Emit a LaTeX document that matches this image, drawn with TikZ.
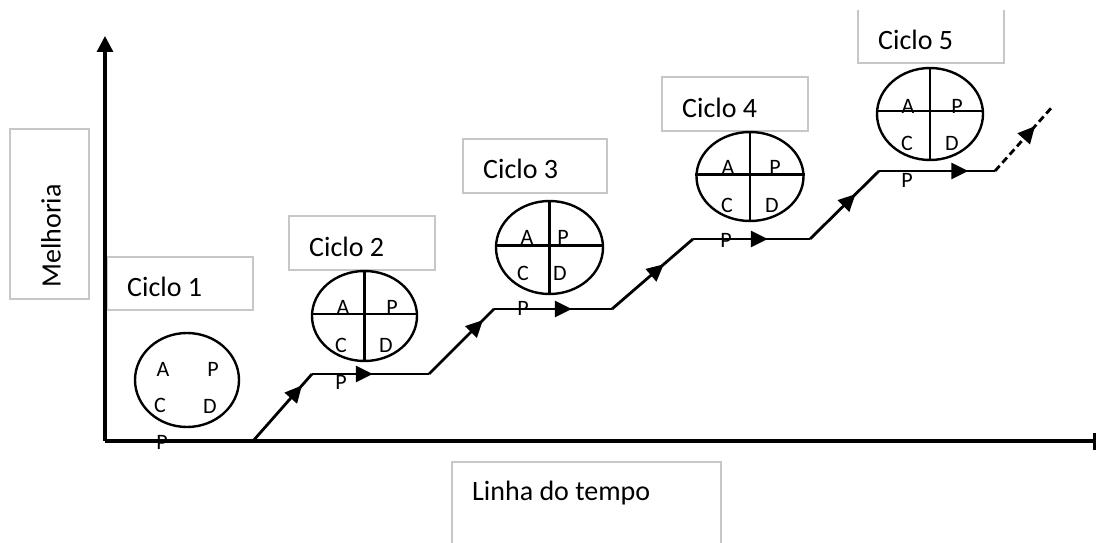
\documentclass[tikz,border=0pt]{standalone}
\usepackage{fontspec}
\setmainfont{Carlito}
\usetikzlibrary{arrows.meta,decorations.markings,shapes.geometric}
\tikzset{
  lbl/.style={font=\fontsize{28}{30}\selectfont, inner sep=0pt},
  ltr/.style={font=\fontsize{22}{24}\selectfont, inner sep=0pt},
  gbox/.style={draw=black!22, line width=1.2pt},
  pdca/.style={draw, ellipse, line width=2.4pt, inner sep=0pt},
  cross/.style={line width=2.4pt},
  axis/.style={line width=3.1pt},
  stair/.style={line width=2.8pt, line join=miter},
  arrowat/.style={postaction={decorate}, decoration={markings,
     mark=at position #1 with {\arrow{Triangle[width=16pt,length=17pt]}}}},
}
\begin{document}
\begin{tikzpicture}[x=1pt,y=-1pt]
\useasboundingbox (0,0) rectangle (1098,543);
% label boxes
\draw[gbox] (10,129) rectangle (89,299);
\node[lbl, rotate=90] (mel) at (51,236) {Melhoria};
\draw[gbox] (107,257) rectangle (253,310);
\node[lbl, anchor=west] (t1) at (127,287) {Ciclo 1};
\draw[gbox] (289,216) rectangle (435,270);
\node[lbl, anchor=west] (t2) at (309,247) {Ciclo 2};
\draw[gbox] (463,139) rectangle (607,193);
\node[lbl, anchor=west] (t3) at (483,169) {Ciclo 3};
\draw[gbox] (662,77) rectangle (808,131);
\node[lbl, anchor=west] (t4) at (682,108) {Ciclo 4};
\draw[gbox] (858,10) -- (858,63) -- (1004,63) -- (1004,10);
\node[lbl, anchor=west] (t5) at (878,40) {Ciclo 5};
\draw[gbox] (452,543) -- (452,462) -- (721,462) -- (721,543);
\node[lbl, anchor=west] (tl) at (472,493) {Linha do tempo};

% axes
\coordinate (O) at (105,441);
\coordinate (ytop) at (105,36);
\coordinate (xend) at (1096,441);
\draw[axis, -{Triangle[width=16pt,length=16pt]}] (O) -- (ytop);
\draw[axis, -{Bar[width=17pt,line width=3pt]}] (O) -- (xend);

% staircase path
\coordinate (s0) at (253,441);
\coordinate (s1) at (312,374);
\coordinate (s2) at (429,374);
\coordinate (s3) at (494,309);
\coordinate (s4) at (612,309);
\coordinate (s5) at (693,239);
\coordinate (s6) at (810,239);
\coordinate (s7) at (879,171);
\coordinate (s8) at (995,171);
\coordinate (s9) at (1053,106);
\draw[stair, arrowat=0.83] (s0) -- (s1);
\draw[stair, arrowat=0.52] (s1) -- (s2);
\draw[stair, arrowat=0.83] (s2) -- (s3);
\draw[stair, arrowat=0.66] (s3) -- (s4);
\draw[stair, arrowat=0.64] (s4) -- (s5);
\draw[stair, arrowat=0.64] (s5) -- (s6);
\draw[stair, arrowat=0.66] (s6) -- (s7);
\draw[stair, arrowat=0.77] (s7) -- (s8);
\draw[stair, dash pattern=on 7pt off 4pt, arrowat=0.69] (s8) -- (s9);

% cycle 1
\node[pdca, minimum width=104pt, minimum height=94pt] (c1) at (187,380) {};
\node[ltr] (c1a) at (163,369) {A};
\node[ltr] (c1p) at (213,369) {P};
\node[ltr] (c1c) at (160,405) {C};
\node[ltr] (c1d) at (210,406) {D};
\node[ltr] (p1) at (162,442) {P};

% cycle 2
\node[pdca, minimum width=105pt, minimum height=90pt] (c2) at (364.5,316) {};
\draw[cross] (c2.north) -- (c2.south);
\draw[cross] ([yshift=2pt]c2.west) -- ([yshift=2pt]c2.east);
\node[ltr] (c2a) at (343,307) {A};
\node[ltr] (c2p) at (392,307) {P};
\node[ltr] (c2c) at (341,345) {C};
\node[ltr] (c2d) at (386,345) {D};
\node[ltr] (p2) at (341,382) {P};

% cycle 3
\node[pdca, minimum width=107pt, minimum height=93pt] (c3) at (549.5,247.5) {};
\draw[cross] (c3.north) -- (c3.south);
\draw[cross] ([yshift=2pt]c3.west) -- ([yshift=2pt]c3.east);
\node[ltr] (c3a) at (527,237) {A};
\node[ltr] (c3p) at (563,237) {P};
\node[ltr] (c3c) at (523,273) {C};
\node[ltr] (c3d) at (560,273) {D};
\node[ltr] (p3) at (523,308) {P};

% cycle 4
\node[pdca, minimum width=107pt, minimum height=89pt] (c4) at (750,176.5) {};
\draw[cross] (c4.north) -- (c4.south);
\draw[cross] ([yshift=2pt]c4.west) -- ([yshift=2pt]c4.east);
\node[ltr] (c4a) at (728,167) {A};
\node[ltr] (c4p) at (775,167) {P};
\node[ltr] (c4c) at (727,205) {C};
\node[ltr] (c4d) at (772,205) {D};
\node[ltr] (p4) at (726,240) {P};

% cycle 5
\node[pdca, minimum width=106pt, minimum height=92pt] (c5) at (930,114) {};
\draw[cross] (c5.north) -- (c5.south);
\draw[cross] ([yshift=3pt]c5.west) -- ([yshift=3pt]c5.east);
\node[ltr] (c5a) at (908,106) {A};
\node[ltr] (c5p) at (957,106) {P};
\node[ltr] (c5c) at (907,143) {C};
\node[ltr] (c5d) at (952,143) {D};
\node[ltr] (p5) at (907,180) {P};
\end{tikzpicture}
\end{document}
